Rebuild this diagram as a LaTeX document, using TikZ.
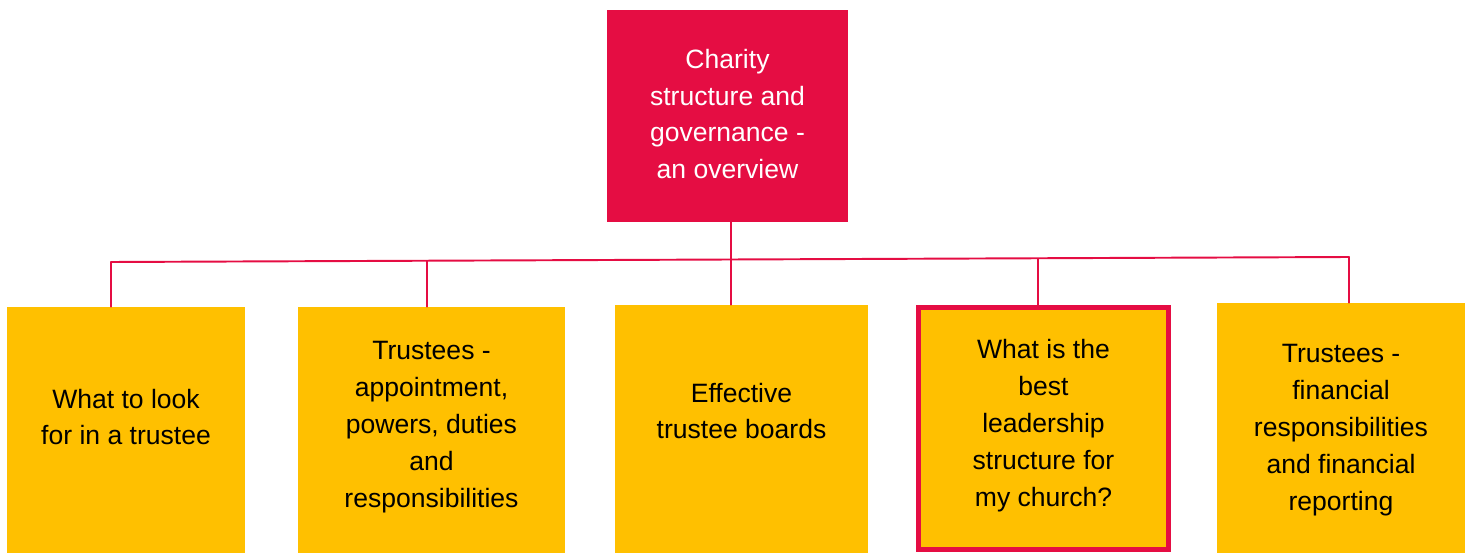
\documentclass[tikz,border=0pt]{standalone}
\usepackage{fontspec}
\setmainfont{Liberation Sans}
\usepackage{xcolor}
\definecolor{chred}{HTML}{E50D43}
\definecolor{chgold}{HTML}{FFC000}

\begin{document}
\begin{tikzpicture}[line cap=round,
  font=\fontsize{15.1}{21}\selectfont,
  headbox/.style={fill=chred,inner sep=0pt},
  topicbox/.style={fill=chgold,inner sep=0pt},
  boxtext/.style={align=center,inner sep=0pt},
  link/.style={draw=chred,line width=1.1pt}]
\useasboundingbox (0,0) rectangle (29.38,-11.06);
% overview box
\node[headbox,minimum width=4.82cm,minimum height=4.24cm,
  label={[boxtext,text=white,yshift=0.04cm]center:{Charity\\structure and\\governance -\\an overview}}]
  (top) at (14.55,-2.32) {};
% topic boxes
\node[topicbox,minimum width=4.76cm,minimum height=4.92cm,
  label={[boxtext,yshift=0.26cm]center:{What to look\\for in a trustee}}]
  (look) at (2.52,-8.60) {};
\node[topicbox,minimum width=5.34cm,minimum height=4.92cm,
  label={[boxtext,yshift=0.06cm]center:{Trustees -\\appointment,\\powers, duties\\and\\responsibilities}}]
  (duties) at (8.63,-8.60) {};
\node[topicbox,minimum width=5.06cm,minimum height=4.96cm,
  label={[boxtext,yshift=0.36cm]center:{Effective\\trustee boards}}]
  (boards) at (14.83,-8.58) {};
\node[topicbox,draw=chred,line width=2.8pt,minimum width=5.0cm,minimum height=4.84cm,
  label={[boxtext,yshift=0.06cm]center:{What is the\\best\\leadership\\structure for\\my church?}}]
  (church) at (20.87,-8.57) {};
\node[topicbox,minimum width=4.96cm,minimum height=5.0cm,
  label={[boxtext,yshift=-0.04cm]center:{Trustees -\\financial\\responsibilities\\and financial\\reporting}}]
  (money) at (26.82,-8.56) {};
% junctions on the bar
\coordinate (j1) at (2.22,-5.24);
\coordinate (j2) at (8.54,-5.22);
\coordinate (j3) at (14.62,-5.20);
\coordinate (j4) at (20.76,-5.18);
\coordinate (j5) at (26.98,-5.14);
\draw[link] (j3 |- top.south) -- (j3);
\draw[link] (j1) -- (j5);
\draw[link] (j1) -- (j1 |- look.north);
\draw[link] (j2) -- (j2 |- duties.north);
\draw[link] (j3) -- (j3 |- boards.north);
\draw[link] (j4) -- (j4 |- church.north);
\draw[link] (j5) -- (j5 |- money.north);
\end{tikzpicture}
\end{document}
